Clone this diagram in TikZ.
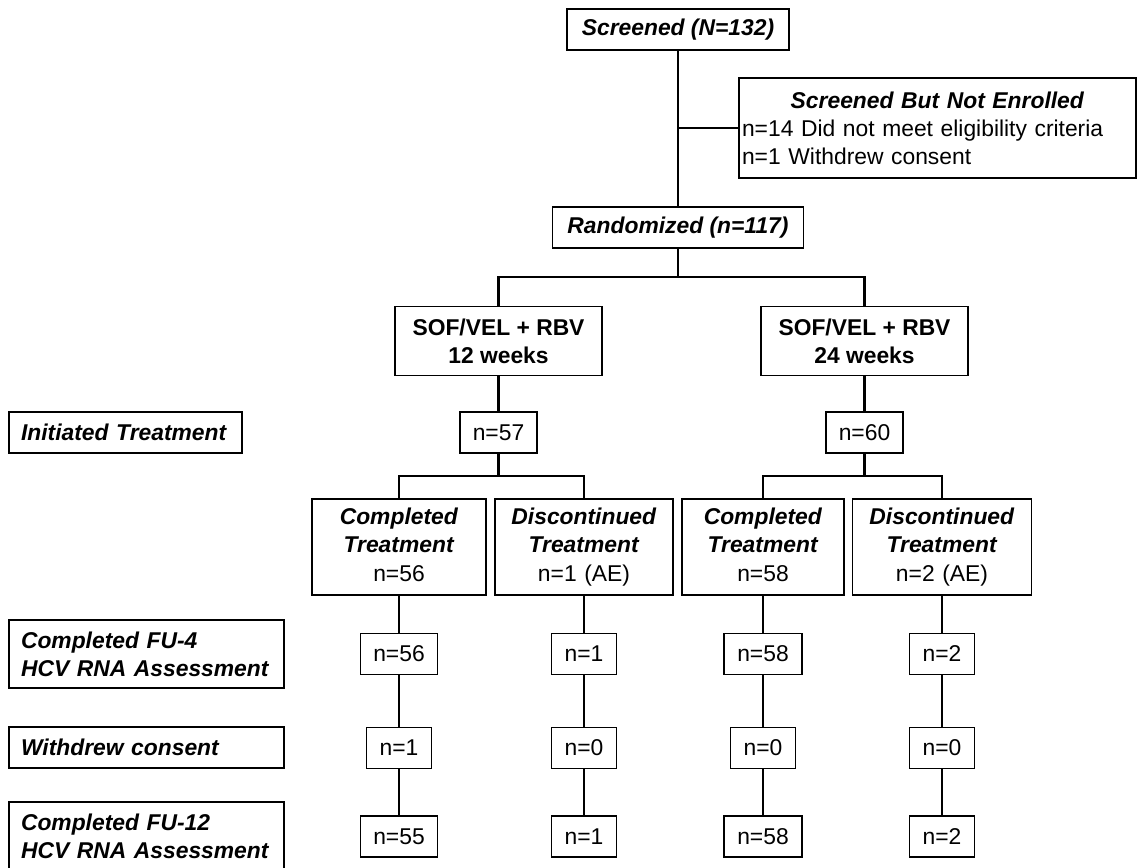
\documentclass[tikz,border=0pt]{standalone}
\usepackage{fontspec}
\setmainfont{Liberation Sans}

\newcommand{\bodyfont}{\fontsize{13}{16}\selectfont}
\newcommand{\hdg}[1]{\textbf{\textit{#1}}}

\tikzset{
    box/.style={draw, line width=0.7pt, inner sep=0pt, align=center, font=\bodyfont},
    nbox/.style={box, minimum height=0.82cm},
    armbox/.style={box, font=\bodyfont\bfseries, minimum width=4.14cm, minimum height=1.38cm},
    outbox/.style={box, minimum height=1.92cm},
    rowlbl/.style={box, align=left, font=\bodyfont\bfseries\itshape, inner xsep=0.24cm},
    link/.style={line width=1.3pt},
    thinlink/.style={line width=0.95pt},
}

\begin{document}
\begin{tikzpicture}[x=0.02cm, y=-0.02cm]
    \useasboundingbox (0, 0) rectangle (1137, 868);

    % top of the chart
    \node[nbox, minimum width=4.44cm] (screened) at (678, 29.5) {\hdg{Screened (N=132)}};
    \node[box, align=left, text width=7.82cm, inner xsep=0.06cm, minimum height=2cm] (sbne) at (937.5, 128)
        {\makebox[7.82cm]{\hdg{Screened But Not Enrolled}}\\
         n=14 Did not meet eligibility criteria\\
         n=1 Withdrew consent};
    \node[nbox, minimum width=5.02cm] (randomized) at (678, 227.5) {\hdg{Randomized (n=117)}};
    \coordinate (rsplit) at (678, 277);

    % treatment arms
    \node[armbox] (sof12) at (498.5, 341) {SOF/VEL + RBV\\12 weeks};
    \node[armbox] (sof24) at (864.5, 341) {SOF/VEL + RBV\\24 weeks};
    \node[nbox, minimum width=1.54cm] (n57) at (498.5, 432.5) {n=57};
    \node[nbox, minimum width=1.54cm] (n60) at (864.5, 432.5) {n=60};
    \coordinate (split12) at (498.5, 476);
    \coordinate (split24) at (864.5, 476);

    \node[outbox, text width=3.48cm] (comp12) at (399, 547) {\hdg{Completed}\\\hdg{Treatment}\\n=56\vphantom{()}};
    \node[outbox, text width=3.56cm] (disc12) at (584, 547) {\hdg{Discontinued}\\\hdg{Treatment}\\n=1 (AE)};
    \node[outbox, text width=3.24cm] (comp24) at (763, 547) {\hdg{Completed}\\\hdg{Treatment}\\n=58\vphantom{()}};
    \node[outbox, text width=3.58cm] (disc24) at (942, 547) {\hdg{Discontinued}\\\hdg{Treatment}\\n=2 (AE)};

    % row labels
    \node[rowlbl, text width=4.18cm, minimum height=0.82cm] (initlbl) at (125.5, 432.5) {Initiated Treatment};
    \node[rowlbl, text width=5.02cm, minimum height=1.36cm] (fu4lbl) at (146.5, 654) {Completed FU-4\\HCV RNA Assessment};
    \node[rowlbl, text width=5.02cm, minimum height=0.82cm] (wdlbl) at (146.5, 747.5) {Withdrew consent};
    \node[rowlbl, text width=5.02cm, minimum height=1.36cm] (fu12lbl) at (146.5, 836) {Completed FU-12\\HCV RNA Assessment};

    % follow-up counts
    \node[nbox, minimum width=1.54cm] (fu4a) at (399, 654) {n=56};
    \node[nbox, minimum width=1.30cm] (fu4b) at (584, 654) {n=1};
    \node[nbox, minimum width=1.56cm] (fu4c) at (763, 654) {n=58};
    \node[nbox, minimum width=1.30cm] (fu4d) at (942, 654) {n=2};
    \node[nbox, minimum width=1.30cm] (wda) at (399, 748) {n=1};
    \node[nbox, minimum width=1.30cm] (wdb) at (584, 748) {n=0};
    \node[nbox, minimum width=1.30cm] (wdc) at (763, 748) {n=0};
    \node[nbox, minimum width=1.30cm] (wdd) at (942, 748) {n=0};
    \node[nbox, minimum width=1.54cm] (fu12a) at (399, 836.5) {n=55};
    \node[nbox, minimum width=1.30cm] (fu12b) at (584, 836.5) {n=1};
    \node[nbox, minimum width=1.56cm] (fu12c) at (763, 836.5) {n=58};
    \node[nbox, minimum width=1.30cm] (fu12d) at (942, 836.5) {n=2};

    \draw[link] (screened) -- (randomized);
    \draw[link] (sbne) -- (sbne -| screened);
    \draw[link] (randomized) -- (rsplit);
    \draw[link] (sof12) |- (rsplit) -| (sof24);
    \draw[link] (sof12) -- (n57);
    \draw[link] (sof24) -- (n60);
    \draw[link] (n57) -- (split12);
    \draw[link] (n60) -- (split24);
    \draw[link] (comp12) |- (split12) -| (disc12);
    \draw[link] (comp24) |- (split24) -| (disc24);

    \draw[thinlink] (comp12) -- (fu4a);
    \draw[thinlink] (disc12) -- (fu4b);
    \draw[thinlink] (comp24) -- (fu4c);
    \draw[thinlink] (disc24) -- (fu4d);
    \draw[thinlink] (fu4a) -- (wda);
    \draw[thinlink] (fu4b) -- (wdb);
    \draw[thinlink] (fu4c) -- (wdc);
    \draw[thinlink] (fu4d) -- (wdd);
    \draw[thinlink] (wda) -- (fu12a);
    \draw[thinlink] (wdb) -- (fu12b);
    \draw[thinlink] (wdc) -- (fu12c);
    \draw[thinlink] (wdd) -- (fu12d);
\end{tikzpicture}
\end{document}
